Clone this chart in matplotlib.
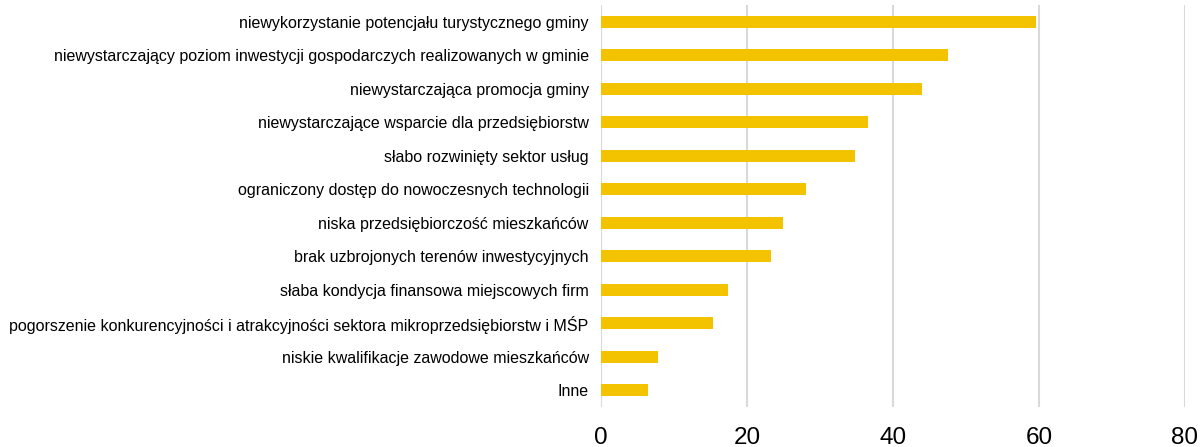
import numpy as np
import matplotlib.pyplot as plt

plt.rcParams['font.family'] = ['Liberation Sans', 'DejaVu Sans']

# categories, top to bottom
categories = [
    "niewykorzystanie potencjału turystycznego gminy",
    "niewystarczający poziom inwestycji gospodarczych realizowanych w gminie",
    "niewystarczająca promocja gminy",
    "niewystarczające wsparcie dla przedsiębiorstw",
    "słabo rozwinięty sektor usług",
    "ograniczony dostęp do nowoczesnych technologii",
    "niska przedsiębiorczość mieszkańców",
    "brak uzbrojonych terenów inwestycyjnych",
    "słaba kondycja finansowa miejscowych firm",
    "pogorszenie konkurencyjności i atrakcyjności sektora mikroprzedsiębiorstw i MŚP",
    "niskie kwalifikacje zawodowe mieszkańców",
    "Inne",
]
values = [59.6, 47.5, 44.0, 36.6, 34.8, 28.1, 24.9, 23.2, 17.4, 15.3, 7.8, 6.4]
x_ticks = [0, 20, 40, 60, 80]

fig = plt.figure(figsize=(12, 4.47), dpi=100)
ax = fig.add_axes([0.501, 0.0895, 0.4865, 0.8995])

y = np.arange(len(categories))
ax.barh(y, values, height=0.36, color="#F4C300", zorder=3)

ax.set_ylim(len(categories) - 0.5, -0.5)
ax.set_xlim(0, 80)
ax.set_xticks(x_ticks)
ax.set_xticklabels([str(t) for t in x_ticks], fontsize=17.5)
ax.set_yticks(y)
ax.set_yticklabels(categories, fontsize=11.5)

ax.tick_params(axis="y", length=0, pad=9)
ax.tick_params(axis="x", length=0, pad=14.5)

ax.grid(axis="x", color="#d9d9d9", linewidth=1.5, zorder=0)
for side in ["top", "right", "bottom", "left"]:
    ax.spines[side].set_visible(False)

fig.savefig("out.png", dpi=100)
